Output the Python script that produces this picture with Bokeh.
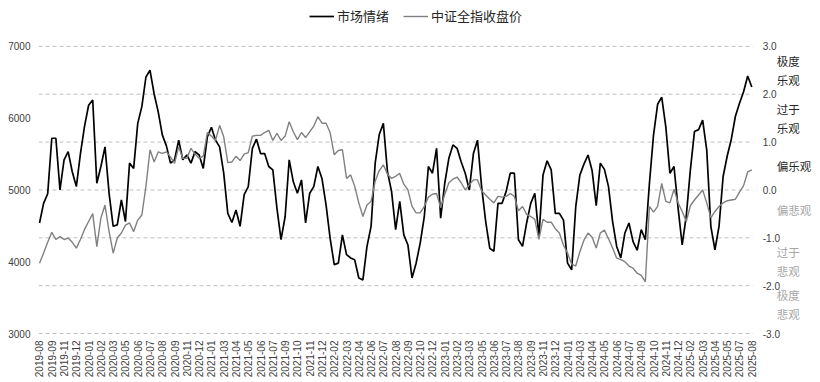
import math
from bokeh.plotting import figure
from bokeh.models import Range1d, LinearAxis, FixedTicker, Legend, LegendItem, ColumnDataSource
from bokeh.core.properties import value
from bokeh.embed import file_html
from bokeh.resources import INLINE

tick_labels = ["2019-08", "2019-09", "2019-11", "2019-12", "2020-01", "2020-02", "2020-03", "2020-05",
               "2020-06", "2020-07", "2020-08", "2020-09", "2020-11", "2020-12", "2021-01", "2021-03",
               "2021-04", "2021-05", "2021-06", "2021-07", "2021-09", "2021-10", "2021-11", "2021-12",
               "2022-02", "2022-03", "2022-04", "2022-06", "2022-07", "2022-08", "2022-09", "2022-10",
               "2022-12", "2023-01", "2023-02", "2023-03", "2023-05", "2023-06", "2023-07", "2023-08",
               "2023-09", "2023-11", "2023-12", "2024-01", "2024-03", "2024-04", "2024-05", "2024-06",
               "2024-07", "2024-09", "2024-10", "2024-11", "2024-12", "2025-02", "2025-03", "2025-04",
               "2025-05", "2025-07", "2025-08"]

# market sentiment (right axis)
sentiment = [-0.69, -0.28, -0.08, 1.08, 1.08, 0.00, 0.63, 0.80, 0.38, 0.07,
             0.76, 1.33, 1.77, 1.88, 0.14, 0.49, 0.90, -0.07, -0.76, -0.73,
             -0.21, -0.66, 0.56, 0.45, 1.39, 1.74, 2.36, 2.50, 2.01, 1.63,
             1.15, 0.92, 0.56, 0.63, 1.04, 0.63, 0.73, 0.56, 0.80, 0.73,
             0.45, 1.11, 1.31, 1.04, 0.90, 0.35, -0.49, -0.68, -0.42, -0.76,
             -0.10, 0.07, 0.87, 1.06, 0.76, 0.76, 0.49, 0.42, -0.38, -1.04,
             -0.56, 0.63, 0.17, -0.07, 0.21, -0.69, -0.07, 0.07, 0.49, 0.24,
             -0.31, -1.01, -1.56, -1.53, -0.94, -1.35, -1.42, -1.46, -1.84, -1.88,
             -1.18, -0.76, 0.56, 1.16, 1.39, 0.38, -0.03, -0.83, -0.24, -0.94,
             -1.15, -1.84, -1.53, -1.11, -0.56, 0.49, 0.35, 0.87, -0.59, 0.14,
             0.66, 0.94, 0.87, 0.59, 0.35, 0.00, 0.76, 1.04, 0.07, -0.66,
             -1.22, -1.28, -0.28, -0.28, -0.03, 0.35, 0.35, -1.04, -1.18, -0.69,
             -0.28, -0.07, -0.97, 0.31, 0.61, 0.42, -0.49, -0.49, -0.63, -1.53,
             -1.67, -0.35, 0.31, 0.54, 0.73, 0.40, -0.33, 0.56, 0.43, 0.07,
             -0.66, -1.18, -1.42, -0.90, -0.69, -1.08, -1.26, -0.83, -1.04, 0.14,
             1.15, 1.79, 1.94, 1.32, 0.35, 0.49, -0.38, -1.15, -0.54, 0.42,
             1.22, 1.26, 1.46, 0.83, -0.76, -1.25, -0.76, 0.28, 0.71, 1.06,
             1.54, 1.81, 2.05, 2.38, 2.15]

# CSI All Share close (left axis)
index_close = [3980, 4120, 4270, 4410, 4310, 4350, 4310, 4330, 4270, 4190,
               4310, 4450, 4560, 4670, 4210, 4610, 4790, 4420, 4120, 4330,
               4400, 4510, 4540, 4420, 4580, 4650, 5050, 5560, 5390, 5530,
               5510, 5530, 5460, 5370, 5600, 5440, 5440, 5580, 5500, 5440,
               5470, 5800, 5750, 5690, 5900, 5740, 5380, 5390, 5470, 5410,
               5500, 5520, 5750, 5760, 5760, 5800, 5830, 5690, 5790, 5690,
               5750, 5950, 5810, 5700, 5800, 5730, 5810, 5890, 6020, 5930,
               5930, 5800, 5490, 5550, 5560, 5160, 5210, 5050, 4820, 4630,
               4790, 4840, 5120, 5270, 5350, 5220, 5160, 5190, 5230, 5080,
               5000, 4770, 4680, 4680, 4770, 4900, 4940, 4950, 4750, 4940,
               5100, 5150, 5180, 5100, 5000, 5070, 5140, 5140, 4990, 4930,
               4870, 4820, 4910, 4900, 4910, 4950, 4910, 4710, 4770, 4660,
               4630, 4590, 4310, 4590, 4550, 4550, 4460, 4400, 4230, 4120,
               3970, 3940, 4140, 4300, 4400, 4340, 4190, 4400, 4440, 4320,
               4190, 4050, 4030, 4000, 3940, 3910, 3840, 3810, 3720, 4770,
               4690, 4770, 5090, 4840, 4820, 5010, 4820, 4700, 4560, 4780,
               4860, 4930, 5000, 4820, 4610, 4700, 4770, 4820, 4850, 4860,
               4870, 4970, 5060, 5250, 5280]

band_labels = ["极度\n乐观", "过于\n乐观", "偏乐观", "偏悲观", "过于\n悲观", "极度\n悲观"]
band_y = [2.5, 1.5, 0.5, -0.42, -1.5, -2.4]
band_colors = ["#262626", "#262626", "#262626", "#a6a6a6", "#a6a6a6", "#a6a6a6"]

right_ticks = [-3, -2, -1, 0, 1, 2, 3]
left_ticks = [3000, 4000, 5000, 6000, 7000]

x = list(range(len(sentiment)))
step = (len(x) - 1) // (len(tick_labels) - 1)
x_ticks = [i * step for i in range(len(tick_labels))]

NUM_FONT = "Liberation Sans"
CJK_FONT = "Noto Sans CJK SC"

# frame covers the canvas top (legend room), a little below -3.0 and the right side (band labels)
TOP_EXT = 46 / 48.0
BOT_EXT = 6 / 48.0
p = figure(width=818, height=380, output_backend="svg", toolbar_location=None,
           x_range=Range1d(-0.244, 190.3), y_range=Range1d(-3 - BOT_EXT, 3 + TOP_EXT),
           min_border_left=38, min_border_right=0, min_border_top=0, min_border_bottom=40)
p.outline_line_color = None
p.xgrid.visible = False
p.ygrid.visible = False
p.yaxis.visible = False

# dashed horizontal grid lines over the data region only (right-axis ticks)
p.segment(x0=[x[0] - 0.25] * len(right_ticks), x1=[x[-1] + 0.25] * len(right_ticks),
          y0=right_ticks, y1=right_ticks, line_color="#c0c0c0", line_width=1, line_dash="4 3")

scale = 4000 / 6.0
p.extra_y_ranges = {"idx": Range1d(5000 - (3 + BOT_EXT) * scale, 5000 + (3 + TOP_EXT) * scale)}
laxis = LinearAxis(y_range_name="idx", ticker=FixedTicker(ticks=left_ticks))
p.add_layout(laxis, "left")

xaxis = p.xaxis[0]
xaxis.ticker = FixedTicker(ticks=x_ticks)
xaxis.major_label_overrides = {t: lab for t, lab in zip(x_ticks, tick_labels)}
xaxis.major_label_orientation = math.pi / 2

for ax in (laxis, xaxis):
    ax.axis_line_color = None
    ax.major_tick_line_color = None
    ax.minor_tick_line_color = None
    ax.major_tick_out = 0
    ax.major_tick_in = 0
    ax.major_label_text_font = NUM_FONT
    ax.major_label_text_color = "#404040"
    ax.major_label_text_font_size = "10px"

xaxis.major_label_standoff = 1
laxis.major_label_standoff = 8

r1 = p.line(x, sentiment, line_color="black", line_width=1.7)
r2 = p.line(x, index_close, line_color="#808080", line_width=1.4, y_range_name="idx")

# right-hand axis numbers and sentiment band labels, drawn as text
num_src = ColumnDataSource(dict(x=[x[-1]] * len(right_ticks), y=right_ticks,
                                t=[f"{v:.1f}" for v in right_ticks]))
p.text(x="x", y="y", text="t", source=num_src, x_offset=11, text_align="left",
       text_baseline="middle", text_font=value(NUM_FONT), text_font_size="10px",
       text_color="#404040")

band_src = ColumnDataSource(dict(x=[x[-1]] * len(band_y), y=band_y, t=band_labels, c=band_colors))
p.text(x="x", y="y", text="t", source=band_src, x_offset=25, text_align="left",
       text_baseline="middle", text_font=value(CJK_FONT), text_font_size="11.5px",
       text_color="c", text_line_height=1.18)

legend = Legend(items=[LegendItem(label="市场情绪", renderers=[r1]),
                       LegendItem(label="中证全指收盘价", renderers=[r2])],
                location=(271, 314), orientation="horizontal",
                padding=0, margin=0, spacing=14, label_standoff=3,
                glyph_width=25, glyph_height=14,
                border_line_color=None, background_fill_alpha=0,
                label_text_font=CJK_FONT, label_text_font_size="13px",
                label_text_color="#262626")
p.add_layout(legend)

open("out.html", "w").write(file_html(p, INLINE))
